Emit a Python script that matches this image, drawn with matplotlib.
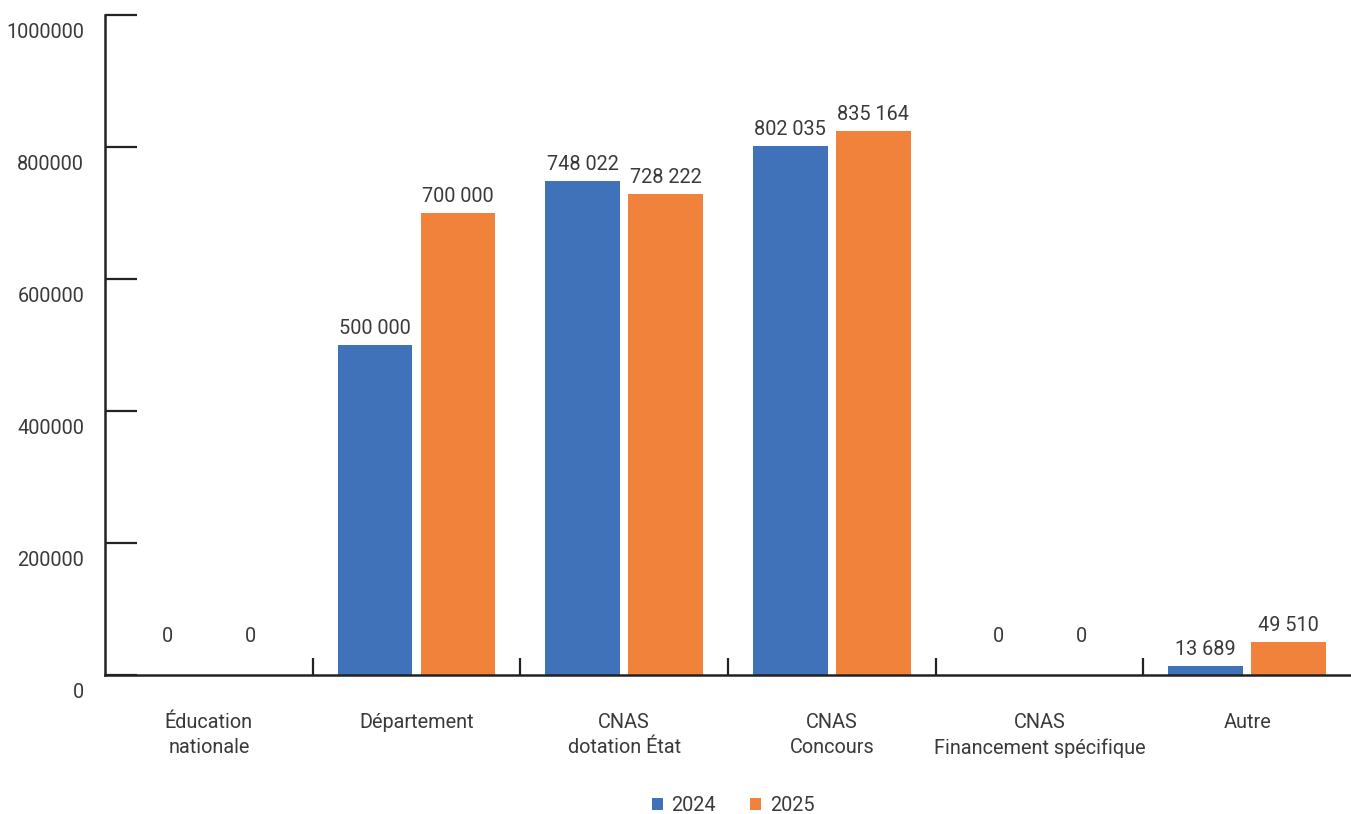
import matplotlib.pyplot as plt
import matplotlib.transforms as mtransforms
from matplotlib.ticker import FixedLocator
import numpy as np

categories = ["Éducation\nnationale", "Département", "CNAS\ndotation État",
              "CNAS\nConcours", "CNAS\nFinancement spécifique", "Autre"]
values_2024 = [0, 500000, 748022, 802035, 0, 13689]
# the 2025 "CNAS Concours" bar is drawn lower than its label in the source chart
values_2025 = [0, 700000, 728222, 824000, 0, 49510]
labels_2024 = ["0", "500 000", "748 022", "802 035", "0", "13 689"]
labels_2025 = ["0", "700 000", "728 222", "835 164", "0", "49 510"]
series_names = ["2024", "2025"]
y_ticks = [0, 200000, 400000, 600000, 800000, 1000000]

BLUE = "#3F72B8"
ORANGE = "#F0823C"
TEXT = "#3a3a3a"
FS = 14.3

plt.rcParams['font.family'] = ['Roboto', 'DejaVu Sans']
plt.rcParams['text.color'] = TEXT

fig = plt.figure(figsize=(13.51, 8.14), dpi=100)
ax = fig.add_axes([105 / 1351, 139 / 814, 1 - 105 / 1351, 660 / 814])

x = np.arange(len(categories))
width = 0.36
offset = 0.2
b1 = ax.bar(x - offset, values_2024, width, color=BLUE, label=series_names[0])
b2 = ax.bar(x + offset, values_2025, width, color=ORANGE, label=series_names[1])

for bars, vals, labs in ((b1, values_2024, labels_2024), (b2, values_2025, labels_2025)):
    for rect, v, t in zip(bars, vals, labs):
        dy = 5 if v > 0 else 21
        ax.annotate(t, (rect.get_x() + rect.get_width() / 2, v),
                    xytext=(0, dy), textcoords="offset points",
                    ha="center", va="bottom", fontsize=FS, color=TEXT)

ax.set_xlim(-0.5, len(categories) - 0.5)
ax.set_ylim(0, 1000000)

ax.set_yticks(y_ticks)
ax.set_yticklabels([str(t) for t in y_ticks])
ax.tick_params(axis="y", direction="in", length=23, width=1.6, color="#222222",
               labelsize=FS, labelcolor=TEXT, pad=15)
shift = mtransforms.ScaledTranslation(0, -15 / 100, fig.dpi_scale_trans)
for lab in ax.get_yticklabels():
    lab.set_transform(lab.get_transform() + shift)

ax.set_xticks(x)
ax.set_xticklabels(categories, linespacing=1.45)
ax.tick_params(axis="x", which="major", length=0, labelsize=FS,
               labelcolor=TEXT, pad=27)
ax.xaxis.set_minor_locator(FixedLocator(np.arange(0.5, len(categories) - 1, 1.0)))
ax.tick_params(axis="x", which="minor", direction="in", length=12, width=1.6,
               color="#222222")

for side in ("top", "right"):
    ax.spines[side].set_visible(False)
for side in ("left", "bottom"):
    ax.spines[side].set_linewidth(1.8)
    ax.spines[side].set_color("#222222")

ax.legend(loc="center", bbox_to_anchor=(0.504, -0.198), ncol=2,
          frameon=False, fontsize=FS, handlelength=0.55, handleheight=0.55,
          handletextpad=0.45, columnspacing=1.7)

fig.savefig("out.png", dpi=100)
